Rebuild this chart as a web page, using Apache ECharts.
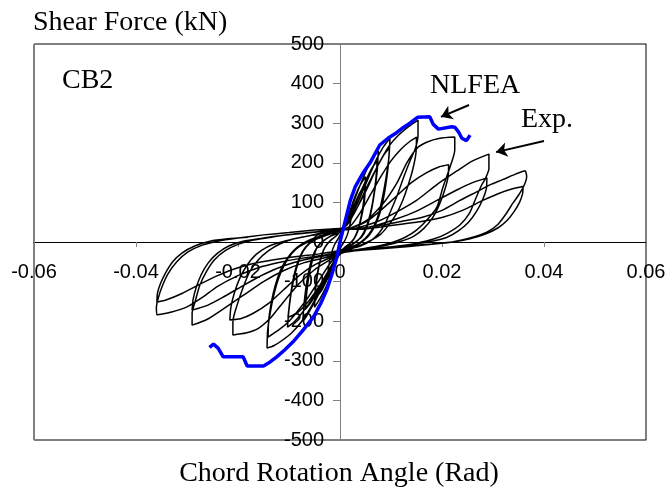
<!DOCTYPE html>
<html><head><meta charset="utf-8">
<script src="https://cdn.jsdelivr.net/npm/echarts@6/dist/echarts.min.js"></script>
<style>html,body{margin:0;padding:0;background:#fff}#c{width:672px;height:495px}</style>
</head><body><div id="c"></div>
<script>
const xTickLabels = ['-0.06','-0.04','-0.02','0','0.02','0.04','0.06'];
const yTickLabels = ['-500','-400','-300','-200','-100','0','100','200','300','400','500'];

// Experimental hysteresis (Exp.), cycle by cycle: [rotation (rad), shear (kN)]
const cycle01 = [[0,0],[0.0008,35],[0.0016,68],[0.0025,95],[0.0022,60],[0.0016,25],[0.001,5],[0.0003,-10],[-0.0008,-40],[-0.0016,-70],[-0.0025,-95],[-0.0022,-60],[-0.0016,-25],[-0.001,-5],[-0.0003,10]];
const cycle02 = [[0.0012,50],[0.0025,100],[0.0038,140],[0.005,165],[0.0048,120],[0.0043,75],[0.0036,35],[0.0028,10],[0.0018,-5],[0.0008,-15],[-0.0005,-40],[-0.0015,-75],[-0.0028,-115],[-0.004,-145],[-0.005,-165],[-0.0048,-120],[-0.0043,-75],[-0.0036,-35],[-0.0028,-10],[-0.0018,5],[-0.0008,15]];
const cycle03 = [[0.001,40],[0.0025,85],[0.0038,122],[0.005,148],[0.0048,105],[0.0042,62],[0.0035,28],[0.0026,5],[0.0016,-8],[0.0006,-18],[-0.0008,-45],[-0.002,-80],[-0.0035,-120],[-0.005,-145],[-0.0047,-100],[-0.0041,-58],[-0.0034,-25],[-0.0025,-5],[-0.0015,8],[-0.0005,18]];
const cycle04 = [[0.001,45],[0.0025,95],[0.004,145],[0.0055,190],[0.0067,218],[0.0075,230],[0.0073,180],[0.0067,120],[0.006,70],[0.0052,35],[0.0042,12],[0.003,0],[0.0015,-12],[0,-22],[-0.0012,-50],[-0.0028,-95],[-0.0045,-140],[-0.006,-175],[-0.0068,-192],[-0.0073,-200],[-0.007,-150],[-0.0065,-100],[-0.0058,-55],[-0.005,-25],[-0.004,-5],[-0.0025,10],[-0.001,22]];
const cycle05 = [[0.0012,45],[0.003,95],[0.0047,145],[0.0062,185],[0.0073,205],[0.007,155],[0.0064,100],[0.0056,55],[0.0047,25],[0.0036,5],[0.002,-10],[0.0003,-22],[-0.0015,-55],[-0.0032,-100],[-0.0048,-135],[-0.006,-158],[-0.0068,-170],[-0.0065,-125],[-0.006,-80],[-0.0053,-42],[-0.0045,-15],[-0.0033,3],[-0.0018,15],[0,25]];
const cycle06 = [[0.0015,50],[0.0035,100],[0.0055,160],[0.007,205],[0.0085,240],[0.0098,262],[0.0096,215],[0.009,160],[0.0082,105],[0.0073,60],[0.0062,30],[0.005,10],[0.0035,-5],[0.0018,-15],[0,-25],[-0.0015,-55],[-0.0035,-100],[-0.0055,-145],[-0.0075,-180],[-0.009,-202],[-0.0103,-215],[-0.01,-170],[-0.0094,-115],[-0.0086,-70],[-0.0077,-35],[-0.0066,-12],[-0.005,5],[-0.003,15],[-0.001,25]];
const cycle07 = [[0.0015,45],[0.0035,90],[0.0055,140],[0.0072,188],[0.0086,220],[0.0097,238],[0.0094,185],[0.0088,130],[0.008,80],[0.007,45],[0.0058,18],[0.0045,2],[0.003,-10],[0.0012,-20],[-0.0005,-38],[-0.0025,-80],[-0.0045,-120],[-0.0065,-155],[-0.0085,-180],[-0.0102,-190],[-0.0098,-145],[-0.0092,-95],[-0.0084,-55],[-0.0074,-25],[-0.0062,-5],[-0.0045,10],[-0.0025,20],[0,30]];
const cycle08 = [[0.0015,45],[0.0035,90],[0.0055,145],[0.0075,195],[0.0095,240],[0.0115,270],[0.0135,292],[0.0153,308],[0.0153,270],[0.0148,237],[0.0138,207],[0.0125,164],[0.0114,124],[0.01,80],[0.0088,45],[0.0075,20],[0.006,3],[0.004,-10],[0.002,-18],[0,-28],[-0.0015,-60],[-0.0035,-110],[-0.0055,-160],[-0.0075,-200],[-0.0095,-230],[-0.0115,-250],[-0.013,-262],[-0.0143,-268],[-0.0142,-225],[-0.0137,-180],[-0.013,-135],[-0.012,-90],[-0.0108,-55],[-0.0095,-30],[-0.008,-12],[-0.006,2],[-0.004,12],[-0.002,20],[0,28]];
const cycle09 = [[0.002,40],[0.004,75],[0.006,120],[0.008,165],[0.01,205],[0.012,235],[0.0138,255],[0.015,265],[0.0149,225],[0.0143,185],[0.0134,145],[0.0123,105],[0.011,70],[0.0095,42],[0.008,20],[0.0062,5],[0.004,-8],[0.002,-16],[0,-25],[-0.002,-55],[-0.004,-95],[-0.006,-135],[-0.008,-170],[-0.01,-200],[-0.012,-222],[-0.0141,-240],[-0.014,-200],[-0.0135,-155],[-0.0127,-110],[-0.0117,-72],[-0.0104,-42],[-0.009,-20],[-0.0072,-3],[-0.005,10],[-0.0025,20],[0,30]];
const cycle10 = [[0.002,35],[0.0053,55],[0.0085,98],[0.0112,150],[0.0131,200],[0.0151,237],[0.017,252],[0.0196,262],[0.0225,265],[0.0225,232],[0.0216,190],[0.0202,139],[0.019,88],[0.017,55],[0.015,30],[0.0128,12],[0.0105,0],[0.0075,-10],[0.0045,-17],[0.002,-22],[0,-30],[-0.002,-45],[-0.005,-70],[-0.008,-105],[-0.011,-150],[-0.0135,-190],[-0.016,-218],[-0.0185,-230],[-0.021,-235],[-0.021,-200],[-0.0202,-160],[-0.019,-115],[-0.0177,-75],[-0.016,-45],[-0.014,-22],[-0.0118,-5],[-0.009,8],[-0.006,16],[-0.003,24],[0,32]];
const cycle11 = [[0.002,35],[0.005,50],[0.008,80],[0.011,115],[0.014,150],[0.017,175],[0.0195,190],[0.0213,195],[0.0212,165],[0.0205,130],[0.0195,95],[0.0182,62],[0.0165,35],[0.0145,15],[0.012,2],[0.009,-8],[0.006,-15],[0.003,-20],[0,-28],[-0.002,-40],[-0.005,-58],[-0.008,-85],[-0.011,-120],[-0.014,-155],[-0.017,-180],[-0.0195,-194],[-0.0216,-197],[-0.0214,-165],[-0.0207,-128],[-0.0196,-90],[-0.0182,-58],[-0.0165,-32],[-0.0145,-14],[-0.012,-2],[-0.009,8],[-0.006,16],[-0.003,22],[0,30]];
const cycle12 = [[0.003,35],[0.007,50],[0.011,75],[0.015,105],[0.019,145],[0.023,180],[0.026,205],[0.0292,222],[0.0292,185],[0.0285,160],[0.0277,142],[0.0265,106],[0.0254,73],[0.0235,43],[0.021,22],[0.0185,8],[0.015,-3],[0.011,-11],[0.007,-17],[0.003,-22],[0,-28],[-0.003,-40],[-0.007,-52],[-0.011,-72],[-0.015,-100],[-0.019,-135],[-0.023,-170],[-0.026,-195],[-0.029,-210],[-0.029,-180],[-0.0284,-150],[-0.0275,-110],[-0.0262,-75],[-0.0246,-45],[-0.0225,-22],[-0.02,-6],[-0.017,5],[-0.013,13],[-0.009,20],[-0.005,25],[0,32]];
const cycle13 = [[0.003,32],[0.007,42],[0.011,58],[0.015,78],[0.019,105],[0.023,132],[0.026,150],[0.0288,162],[0.0287,135],[0.028,108],[0.0268,78],[0.0252,50],[0.0232,28],[0.021,12],[0.018,2],[0.014,-6],[0.01,-12],[0.006,-17],[0.002,-22],[0,-25],[-0.003,-35],[-0.007,-45],[-0.011,-60],[-0.015,-82],[-0.019,-110],[-0.023,-140],[-0.026,-160],[-0.029,-172],[-0.0288,-145],[-0.0282,-115],[-0.0272,-82],[-0.0258,-52],[-0.024,-28],[-0.0218,-10],[-0.019,2],[-0.015,10],[-0.011,17],[-0.007,22],[-0.003,27],[0,30]];
const cycle14 = [[0.004,35],[0.008,42],[0.012,52],[0.016,62],[0.02,80],[0.0235,105],[0.027,128],[0.0295,145],[0.032,158],[0.0345,172],[0.0363,180],[0.0366,165],[0.036,140],[0.035,118],[0.0339,98],[0.0325,70],[0.031,45],[0.0288,25],[0.0255,10],[0.022,0],[0.018,-6],[0.013,-12],[0.008,-17],[0.004,-21],[0,-25],[-0.004,-35],[-0.008,-42],[-0.012,-52],[-0.016,-65],[-0.02,-85],[-0.024,-112],[-0.027,-140],[-0.03,-164],[-0.033,-177],[-0.0359,-184],[-0.036,-165],[-0.0356,-140],[-0.0348,-110],[-0.0337,-80],[-0.032,-50],[-0.0298,-25],[-0.027,-8],[-0.024,2],[-0.02,10],[-0.015,18],[-0.01,24],[-0.005,30],[0,34]];
const cycle15 = [[0.004,32],[0.008,38],[0.012,45],[0.016,52],[0.02,62],[0.024,80],[0.028,105],[0.031,122],[0.034,135],[0.0359,140],[0.0358,122],[0.0352,100],[0.0342,78],[0.0328,55],[0.031,36],[0.0285,20],[0.0255,8],[0.022,0],[0.018,-5],[0.013,-10],[0.008,-15],[0.004,-19],[0,-22],[-0.004,-30],[-0.008,-36],[-0.012,-43],[-0.016,-52],[-0.02,-65],[-0.024,-85],[-0.028,-110],[-0.031,-130],[-0.034,-146],[-0.0359,-152],[-0.0358,-130],[-0.0352,-105],[-0.0342,-78],[-0.0328,-50],[-0.031,-28],[-0.0285,-10],[-0.0255,2],[-0.022,8],[-0.018,12]];

// NLFEA envelope
const nlfeaNeg = [[-0.0256,-266],[-0.0248,-258],[-0.0239,-268],[-0.0229,-290],[-0.019,-290],[-0.0182,-313],[-0.015,-313],[-0.0137,-303],[-0.0124,-290],[-0.0108,-272],[-0.0092,-252],[-0.0072,-222],[-0.0052,-189],[-0.0038,-156],[-0.0026,-121],[-0.0015,-78],[-0.0006,-37],[0,0]];
const nlfeaPos = [[0.001,52],[0.002,104],[0.003,140],[0.0045,174],[0.0059,200],[0.0078,245],[0.0094,262],[0.0111,276],[0.0125,290],[0.0137,300],[0.0152,315],[0.0176,316],[0.0183,297],[0.0193,285],[0.0219,291],[0.0225,290],[0.0232,279],[0.0239,262],[0.0248,256],[0.0255,270]];

// annotation arrows (data coords): [tail, head]
const arrowNLFEA = [[0.0253,346],[0.0198,316]];
const arrowExp = [[0.040,255],[0.0306,227]];

const expData = [].concat(cycle01,cycle02,cycle03,cycle04,cycle05,cycle06,cycle07,cycle08,cycle09,cycle10,cycle11,cycle12,cycle13,cycle14,cycle15);
const nlfeaData = [].concat(nlfeaNeg, nlfeaPos);

const xMin = -0.06, xMax = 0.06, xStep = 0.02;
const yMin = -500, yMax = 500, yStep = 100;
const sans = '"Liberation Sans", Arial, sans-serif';
const serif = '"Liberation Serif", "Times New Roman", serif';
const GRAY = '#808080';

// grid box (px) and the offsets that move the axes onto the zero lines
const G = {left: 34, right: 26, top: 44, bottom: 55};
const plotW = 672 - G.left - G.right, plotH = 495 - G.top - G.bottom;
const xAxisOffset = -plotH * (0 - yMin) / (yMax - yMin);   // move x axis up to y=0
const yAxisOffset = -plotW * (0 - xMin) / (xMax - xMin);   // move y axis right to x=0

const chart = echarts.init(document.getElementById('c'), null, {renderer:'canvas'});
chart.setOption({
  animation: false,
  backgroundColor: '#fff',
  grid: {left: G.left, right: G.right, top: G.top, bottom: G.bottom, show: true, borderColor: '#000', borderWidth: 1, outerBoundsMode: 'none'},
  xAxis: [{
    type: 'value', min: xMin, max: xMax, interval: xStep, position: 'bottom', offset: xAxisOffset,
    axisLine: {show: true, onZero: false, lineStyle: {color: '#000', width: 1}},
    axisTick: {show: true, inside: false, length: 5, lineStyle: {color: GRAY}},
    axisLabel: {margin: 20, color: '#000', fontFamily: sans, fontSize: 20,
      formatter: v => xTickLabels[Math.round((v - xMin) / xStep)]},
    splitLine: {show: false}
  }],
  yAxis: [{
    type: 'value', min: yMin, max: yMax, interval: yStep, position: 'left', offset: yAxisOffset,
    axisLine: {show: true, onZero: false, lineStyle: {color: GRAY, width: 1}},
    axisTick: {show: true, inside: false, length: 7, lineStyle: {color: GRAY}},
    axisLabel: {margin: 16, color: '#000', fontFamily: sans, fontSize: 20,
      formatter: v => yTickLabels[Math.round((v - yMin) / yStep)]},
    splitLine: {show: false}
  }, {
    type: 'value', min: yMin, max: yMax, position: 'left', offset: 0,
    axisLine: {show: true, onZero: false, lineStyle: {color: GRAY}},
    axisTick: {show: false}, axisLabel: {show: false}, splitLine: {show: false}
  }, {
    type: 'value', min: yMin, max: yMax, position: 'right', offset: 0,
    axisLine: {show: true, onZero: false, lineStyle: {color: GRAY}},
    axisTick: {show: false}, axisLabel: {show: false}, splitLine: {show: false}
  }],
  series: [{
    name: 'Exp.', type: 'line', data: expData, showSymbol: false, smooth: 0.2,
    lineStyle: {color: '#000', width: 1.5}, silent: true, z: 2,
    markLine: {
      silent: true, symbol: ['none', 'arrow'], symbolSize: 11,
      label: {show: false},
      lineStyle: {color: '#000', width: 2, type: 'solid'},
      emphasis: {disabled: true},
      data: [
        [{coord: arrowNLFEA[0]}, {coord: arrowNLFEA[1]}],
        [{coord: arrowExp[0]}, {coord: arrowExp[1]}]
      ]
    }
  }, {
    name: 'NLFEA', type: 'line', data: nlfeaData, showSymbol: false,
    lineStyle: {color: '#0000FF', width: 3.5}, silent: true, z: 3
  }],
  graphic: [
    {type: 'text', silent: true, style: {x: 33, y: 23, text: 'Shear Force (kN)', font: '28px ' + serif, fill: '#000', align: 'left', verticalAlign: 'middle'}},
    {type: 'text', silent: true, style: {x: 62, y: 81, text: 'CB2', font: '28px ' + serif, fill: '#000', align: 'left', verticalAlign: 'middle'}},
    {type: 'text', silent: true, style: {x: 430, y: 86, text: 'NLFEA', font: '28px ' + serif, fill: '#000', align: 'left', verticalAlign: 'middle'}},
    {type: 'text', silent: true, style: {x: 521, y: 120, text: 'Exp.', font: '28px ' + serif, fill: '#000', align: 'left', verticalAlign: 'middle'}},
    {type: 'text', silent: true, style: {x: 339, y: 474, text: 'Chord Rotation Angle (Rad)', font: '28px ' + serif, fill: '#000', align: 'center', verticalAlign: 'middle'}}
  ]
});
</script></body></html>
